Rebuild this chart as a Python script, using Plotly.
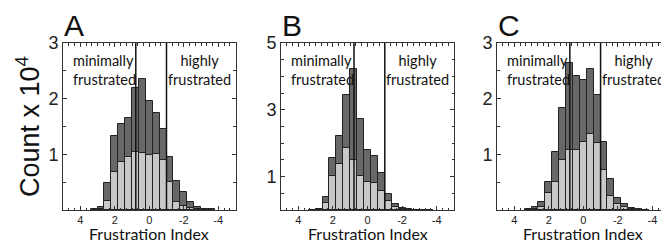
import plotly.graph_objects as go

# ---- data ----
bin_centers = [3.2, 2.8, 2.4, 2.0, 1.6, 1.2, 0.8, 0.4, 0.0, -0.4, -0.8, -1.2,
               -1.6, -2.0, -2.4, -2.8, -3.2, -3.6]
A_total = [0.01, 0.06, 0.49, 1.33, 1.54, 1.66, 2.19, 2.36, 1.95, 1.75, 1.46, 0.96,
           0.52, 0.32, 0.15, 0.06, 0.02, 0.01]
A_light = [0.0, 0.02, 0.16, 0.68, 0.86, 0.96, 1.04, 1.02, 0.98, 1.00, 0.90, 0.50,
           0.15, 0.07, 0.03, 0.01, 0.0, 0.0]
B_total = [0.01, 0.03, 0.38, 1.55, 2.22, 3.45, 4.22, 2.72, 1.80, 1.62, 1.12, 0.49,
           0.19, 0.06, 0.03, 0.01, 0.0, 0.0]
B_light = [0.0, 0.01, 0.22, 1.02, 1.37, 1.85, 1.50, 1.02, 0.85, 0.80, 0.58, 0.27,
           0.10, 0.04, 0.01, 0.0, 0.0, 0.0]
C_total = [0.01, 0.05, 0.15, 0.51, 1.05, 1.84, 2.64, 2.40, 2.34, 2.53, 2.07, 1.22,
           0.56, 0.21, 0.10, 0.03, 0.01, 0.0]
C_light = [0.0, 0.02, 0.06, 0.30, 0.51, 0.90, 1.07, 1.08, 1.23, 1.36, 1.20, 0.72,
           0.25, 0.11, 0.05, 0.01, 0.0, 0.0]
bin_width = 0.4
thresholds = [0.78, -1.0]
x_tickvals = [4, 2, 0, -2, -4]
x_ticktext = ["4", "2", "0", "-2", "-4"]
panel_letters = ["A", "B", "C"]
y_ranges = [[0, 3], [0, 5], [0, 3]]
y_tickvals = [[1, 2, 3], [1, 3, 5], [1, 2, 3]]
x_ranges = [[5, -5], [5, -5], [5, -4.5]]

W, H = 661, 240
DARK = "#686868"
LIGHT = "#c8c8c8"
EDGE = "#222222"
AX = "#333333"
TXT_FONT = "Lato"
NUM_FONT = "Liberation Sans, Arial, sans-serif"

# pixel layout of plot boxes
x_px = [(63, 235.5), (281, 454), (497, 661)]
y_top, y_bot = 43, 210
ydom = [(H - y_bot) / H, (H - y_top) / H]

fig = go.Figure()
series = [(A_total, A_light), (B_total, B_light), (C_total, C_light)]
for i, (tot, lig) in enumerate(series):
    xa = "x" if i == 0 else f"x{i+1}"
    ya = "y" if i == 0 else f"y{i+1}"
    fig.add_trace(go.Bar(x=bin_centers, y=tot, width=bin_width, xaxis=xa, yaxis=ya,
                         marker=dict(color=DARK, line=dict(color=EDGE, width=1)),
                         showlegend=False))
    fig.add_trace(go.Bar(x=bin_centers, y=lig, width=bin_width, xaxis=xa, yaxis=ya,
                         marker=dict(color=LIGHT, line=dict(color=EDGE, width=1)),
                         showlegend=False))

layout = dict(width=W, height=H, margin=dict(l=0, r=0, t=0, b=0, autoexpand=False),
              paper_bgcolor="white", plot_bgcolor="white", barmode="overlay",
              bargap=0, showlegend=False)

annotations = []
shapes = []
for i in range(3):
    sfx = "" if i == 0 else str(i + 1)
    x0, x1 = x_px[i]
    layout["xaxis" + sfx] = dict(
        domain=[x0 / W, x1 / W], range=x_ranges[i], anchor="y" + sfx,
        showline=True, linecolor=AX, linewidth=1, mirror="allticks",
        ticks="inside", ticklen=4, tickcolor=AX, tickwidth=1,
        tickvals=x_tickvals, ticktext=x_ticktext, automargin=False,
        tickfont=dict(family=NUM_FONT, size=11, color="#222"),
        minor=dict(dtick=1 / 3, tick0=0, ticks="inside", ticklen=2.5,
                   tickcolor=AX, showgrid=False),
        showgrid=False, zeroline=False, fixedrange=True)
    layout["yaxis" + sfx] = dict(
        domain=ydom, range=y_ranges[i], anchor="x" + sfx,
        showline=True, linecolor=AX, linewidth=1, automargin=False,
        mirror="allticks" if i < 2 else False,
        ticks="inside", ticklen=4, tickcolor=AX, tickwidth=1,
        tickvals=y_tickvals[i],
        tickfont=dict(family=NUM_FONT, size=18, color="#222"),
        minor=dict(dtick=0.5, tick0=0, ticks="inside", ticklen=2.5,
                   tickcolor=AX, showgrid=False),
        showgrid=False, zeroline=False, fixedrange=True)
    xr = "x" + sfx
    for t in thresholds:
        shapes.append(dict(type="line", xref=xr, yref="y" + sfx + " domain",
                           x0=t, x1=t, y0=0, y1=1,
                           line=dict(color="#111", width=1.5)))
    annotations.append(dict(text="minimally<br>frustrated", xref=xr,
                            yref="y" + sfx + " domain", x=4.55, y=0.96,
                            xanchor="left", yanchor="top", align="left",
                            showarrow=False,
                            font=dict(family=TXT_FONT, size=14.5, color="#111")))
    annotations.append(dict(text="highly<br>frustrated", xref=xr,
                            yref="y" + sfx + " domain", x=-2.9, y=0.96,
                            xanchor="center", yanchor="top", align="center",
                            showarrow=False,
                            font=dict(family=TXT_FONT, size=14.5, color="#111")))
    annotations.append(dict(text=panel_letters[i], xref="paper", yref="paper",
                            x=(x0 - 1) / W, y=(H - 26) / H, xanchor="left",
                            yanchor="middle", showarrow=False,
                            font=dict(family=NUM_FONT, size=30, color="#111")))
    zero_px = x0 + (x1 - x0) * (x_ranges[i][0] - 0) / (x_ranges[i][0] - x_ranges[i][1])
    annotations.append(dict(text="Frustration Index", xref="paper", yref="paper",
                            x=zero_px / W, y=(H - 233) / H, xanchor="center",
                            yanchor="middle", showarrow=False,
                            font=dict(family=TXT_FONT, size=16, color="#111")))

annotations.append(dict(text="Count x 10<sup>4</sup>", xref="paper", yref="paper",
                        x=28 / W, y=(H - 127) / H, xanchor="center",
                        yanchor="middle", textangle=-90, showarrow=False,
                        font=dict(family=NUM_FONT, size=27, color="#111")))

layout["annotations"] = annotations
layout["shapes"] = shapes
fig.update_layout(**layout)
fig.write_html("out.html", config={"displayModeBar": False},
               post_script="document.body.style.margin='0px';document.body.style.overflow='hidden';")
